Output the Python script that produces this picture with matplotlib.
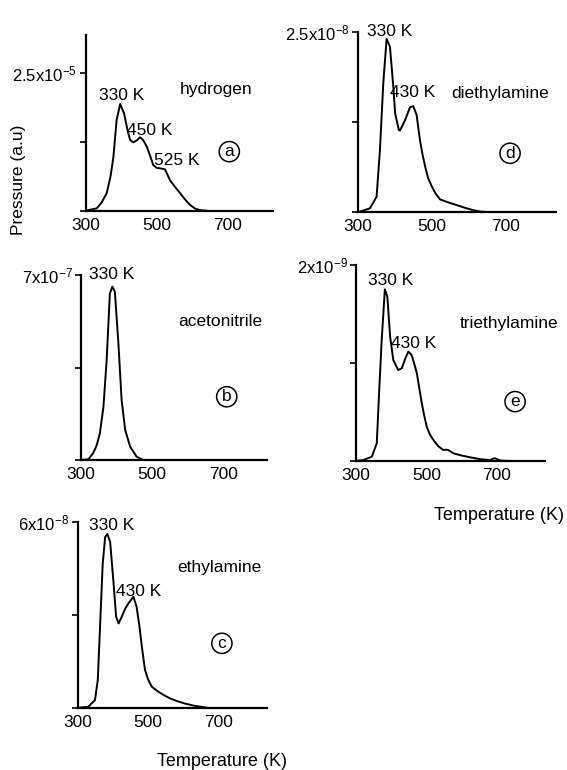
import numpy as np
import matplotlib
matplotlib.use('Agg')
import matplotlib.pyplot as plt

plt.rcParams['font.family'] = ['Liberation Sans', 'DejaVu Sans']
plt.rcParams['mathtext.default'] = 'regular'

#Data (pressure in units of the top tick value)#
temp_a = [300, 331, 345, 359, 370, 378, 387, 397, 408, 418, 425, 434, 444, 453, 462, 472, 481, 490, 500, 509, 523, 537, 552, 566, 580, 594, 608, 622, 640]
p_a = [0, 0.017, 0.06, 0.126, 0.25, 0.39, 0.657, 0.773, 0.705, 0.58, 0.512, 0.495, 0.51, 0.532, 0.51, 0.464, 0.40, 0.331, 0.31, 0.307, 0.30, 0.222, 0.17, 0.126, 0.08, 0.041, 0.015, 0.004, 0]

temp_b = [300, 321, 335, 344, 353, 363, 372, 381, 388, 395, 405, 414, 424, 438, 456, 475]
p_b = [0, 0.004, 0.04, 0.08, 0.144, 0.288, 0.54, 0.90, 0.937, 0.91, 0.63, 0.324, 0.162, 0.072, 0.018, 0]

temp_c = [300, 330, 349, 357, 363, 371, 378, 384, 392, 401, 409, 416, 425, 434, 444, 458, 467, 475, 482, 491, 500, 510, 527, 544, 562, 581, 605, 629, 667]
p_c = [0, 0.005, 0.041, 0.149, 0.418, 0.776, 0.919, 0.934, 0.892, 0.686, 0.489, 0.453, 0.489, 0.53, 0.561, 0.597, 0.543, 0.44, 0.328, 0.202, 0.15, 0.113, 0.088, 0.068, 0.05, 0.036, 0.022, 0.011, 0]

temp_d = [300, 333, 351, 360, 369, 378, 387, 396, 401, 411, 414, 428, 441, 450, 459, 468, 475, 482, 490, 500, 510, 522, 540, 558, 576, 594, 612, 630, 666]
p_d = [0, 0.022, 0.087, 0.346, 0.717, 0.963, 0.92, 0.70, 0.55, 0.457, 0.454, 0.513, 0.583, 0.59, 0.54, 0.40, 0.32, 0.254, 0.19, 0.143, 0.105, 0.072, 0.058, 0.046, 0.034, 0.022, 0.012, 0.004, 0]

temp_e = [300, 321, 345, 359, 366, 373, 382, 389, 397, 406, 420, 430, 442, 449, 458, 465, 473, 480, 487, 494, 501, 510, 520, 534, 548, 555, 562, 577, 600, 624, 653, 681, 690, 695, 702, 710, 747]
p_e = [0, 0.005, 0.022, 0.09, 0.362, 0.617, 0.876, 0.838, 0.634, 0.515, 0.464, 0.473, 0.532, 0.558, 0.541, 0.50, 0.447, 0.37, 0.294, 0.23, 0.175, 0.135, 0.107, 0.075, 0.056, 0.058, 0.056, 0.039, 0.028, 0.019, 0.009, 0.005, 0.012, 0.014, 0.008, 0.002, 0]

top_labels = [r'2.5x10$^{-5}$', r'7x10$^{-7}$', r'6x10$^{-8}$', r'2.5x10$^{-8}$', r'2x10$^{-9}$']
gases = ['hydrogen', 'acetonitrile', 'ethylamine', 'diethylamine', 'triethylamine']
letters = ['a', 'b', 'c', 'd', 'e']
xticks = [300, 500, 700]

W, H = 567, 770
fs = 12.5
fig = plt.figure(figsize=(W/100, H/100), dpi=100)

def panel(x0, x1, ybot, ytop, xmax, ymax, T, P, toplab):
    # axes placed from pixel coordinates
    ax = fig.add_axes([x0/W, (H-ybot)/H, (x1-x0)/W, (ybot-ytop)/H])
    ax.plot(T, P, color='black', lw=1.4)
    ax.set_xlim(300, xmax)
    ax.set_ylim(0, ymax)
    for s in ['top', 'right']:
        ax.spines[s].set_visible(False)
    for s in ['left', 'bottom']:
        ax.spines[s].set_linewidth(1.6)
    ax.set_xticks(xticks)
    ax.set_xticklabels([str(t) for t in xticks], fontsize=fs)
    ax.tick_params(axis='x', length=0, pad=5)
    ax.set_yticks([0, 0.5, 1])
    ax.set_yticklabels(['', '', toplab], fontsize=12)
    ax.tick_params(axis='y', length=4, width=1.2, pad=2)
    ax.patch.set_alpha(0)
    return ax

def lab(ax, x, y, s):
    ax.text(x, y, s, fontsize=fs, ha='center', va='center')

def circ(ax, x, y, s):
    ax.text(x, y, s, fontsize=fs, ha='center', va='center',
            bbox=dict(boxstyle='circle,pad=0.15', fc='white', ec='black', lw=1.1))

# (a) hydrogen
ax = panel(85.7, 273, 210.7, 35, 827, 1.273, temp_a, p_a, top_labels[0])
lab(ax, 401, 0.838, '330 K')
lab(ax, 481, 0.58, '450 K')
lab(ax, 556, 0.367, '525 K')
lab(ax, 666, 0.875, gases[0])
circ(ax, 704, 0.428, letters[0])

# (b) acetonitrile
ax = panel(81, 267, 460, 275, 822, 1.0, temp_b, p_b, top_labels[1])
lab(ax, 386, 1.0, '330 K')
lab(ax, 692, 0.748, gases[1])
circ(ax, 709, 0.342, letters[1])

# (c) ethylamine
ax = panel(77.7, 267, 707.7, 521.7, 837, 1.0, temp_c, p_c, top_labels[2])
lab(ax, 397, 0.982, '330 K')
lab(ax, 473, 0.624, '430 K')
lab(ax, 702, 0.754, gases[2])
circ(ax, 709, 0.346, letters[2])

# (d) diethylamine
ax = panel(357.7, 556, 212.3, 32.3, 835, 1.0, temp_d, p_d, top_labels[3])
lab(ax, 387, 1.004, '330 K')
lab(ax, 447, 0.665, '430 K')
lab(ax, 684, 0.661, gases[3])
circ(ax, 711, 0.328, letters[3])

# (e) triethylamine
ax = panel(356, 545, 461, 265, 837, 1.0, temp_e, p_e, top_labels[4])
lab(ax, 397, 0.92, '330 K')
lab(ax, 463, 0.597, '430 K')
lab(ax, 735, 0.702, gases[4])
circ(ax, 752, 0.303, letters[4])

# Axis titles
fig.text(19/W, 1-180/H, 'Pressure (a.u)', rotation=90, fontsize=fs, ha='center', va='center')
fig.text(564/W, 1-515/H, 'Temperature (K)', fontsize=13, ha='right', va='center')
fig.text(222/W, 1-762/H, 'Temperature (K)', fontsize=13, ha='center', va='center')

fig.savefig('out.png', dpi=100)
